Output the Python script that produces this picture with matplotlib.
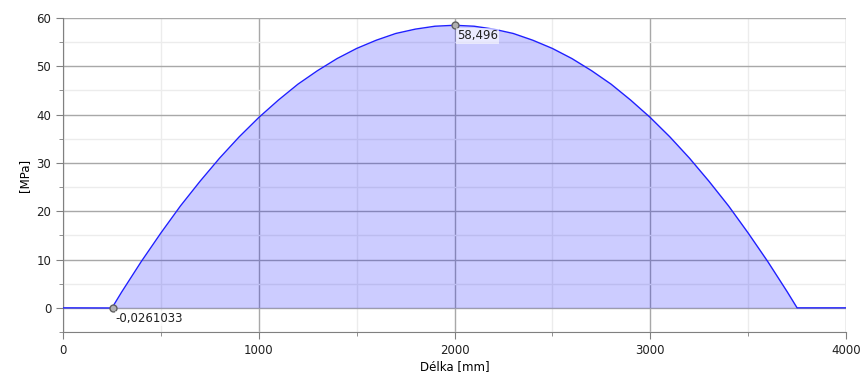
import matplotlib
matplotlib.use("Agg")
import matplotlib.pyplot as plt
from matplotlib.ticker import MultipleLocator

# values
delka = [0, 250, 300, 400, 500, 600, 700, 800, 900, 1000, 1100, 1200, 1300, 1400, 1500,
         1600, 1700, 1800, 1900, 2000, 2100, 2200, 2300, 2400, 2500, 2600, 2700, 2800,
         2900, 3000, 3100, 3200, 3300, 3400, 3500, 3600, 3700, 3750, 4000]
napeti = [0, -0.026, 3.3, 9.6, 15.5, 21.1, 26.2, 31.0, 35.4, 39.4, 43.0, 46.3, 49.1, 51.6, 53.7,
          55.4, 56.8, 57.7, 58.3, 58.496, 58.3, 57.7, 56.8, 55.4, 53.7, 51.6, 49.1, 46.3,
          43.0, 39.4, 35.4, 31.0, 26.2, 21.1, 15.5, 9.6, 3.3, 0, 0]
body_x = [255, 2000]
body_y = [-0.0261033, 58.496]
body_txt = ["-0,0261033", "58,496"]

plt.rcParams["font.family"] = ["DejaVu Sans"]
plt.rcParams["font.size"] = 8

fig = plt.figure(figsize=(8.61, 3.80), dpi=100)
ax = fig.add_axes([0.0732, 0.1263, 0.9094, 0.8263])

ax.fill_between(delka, napeti, 0, color="blue", alpha=0.2, lw=0, zorder=2)
ax.plot(delka, napeti, color="#2020ff", lw=1.0, zorder=3)
ax.plot(body_x, body_y, "o", ms=5, mfc="#b0b0b0", mec="#606060", mew=1, zorder=4)
for x, y, t in zip(body_x, body_y, body_txt):
    ax.annotate(t, (x, y), xytext=(2, -3), textcoords="offset points", va="top", ha="left",
                fontsize=8.5, color="#202020",
                bbox=dict(boxstyle="square,pad=0.1", fc="white", ec="none", alpha=0.6), zorder=5)

ax.set_xlim(0, 4000)
ax.set_ylim(-5, 60)
ax.xaxis.set_major_locator(MultipleLocator(1000))
ax.xaxis.set_minor_locator(MultipleLocator(500))
ax.yaxis.set_major_locator(MultipleLocator(10))
ax.yaxis.set_minor_locator(MultipleLocator(5))
ax.grid(which="major", color="#a8a8a8", lw=1, zorder=1)
ax.grid(which="minor", color="#ececec", lw=1, zorder=1)
ax.set_axisbelow(True)

for s in ["top", "right"]:
    ax.spines[s].set_visible(False)
for s in ["left", "bottom"]:
    ax.spines[s].set_color("#808080")
ax.tick_params(which="major", length=5, color="#808080", labelsize=8.5, labelcolor="#202020")
ax.tick_params(which="minor", length=3, color="#808080")

ax.set_xlabel("Délka [mm]", fontsize=8.5, labelpad=2)
ax.set_ylabel("[MPa]", fontsize=8.5, labelpad=4)

fig.savefig("out.png", dpi=100)
